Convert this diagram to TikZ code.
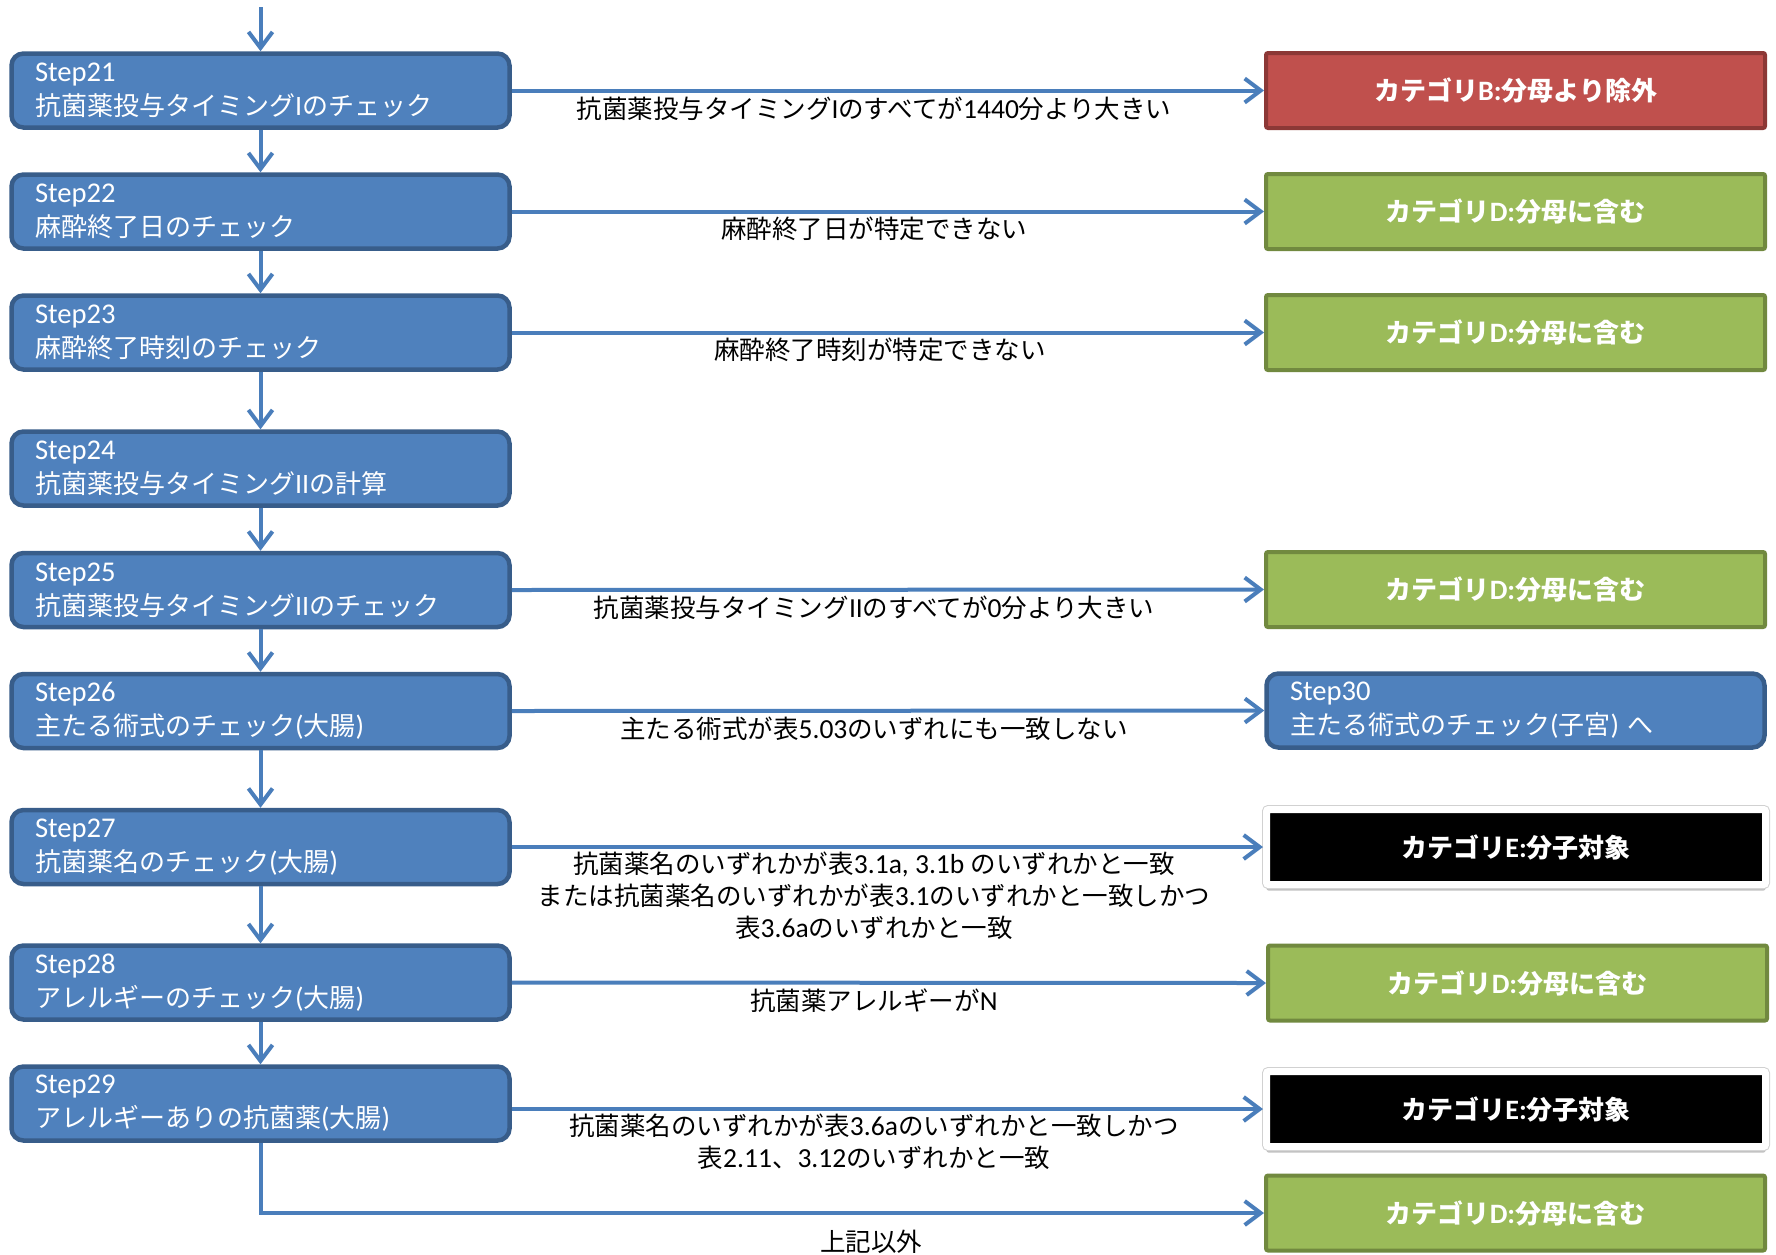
\documentclass[tikz,border=0pt]{standalone}
\usepackage{fontspec}
\setmainfont{Noto Sans CJK JP}
\newfontfamily\lat{Carlito}[Scale=1.08]
\newfontfamily\latb{Carlito}[Scale=1.1]
\usetikzlibrary{arrows.meta,shadows}
\definecolor{stepblue}{HTML}{4F81BD}
\definecolor{stepborder}{HTML}{385D8A}
\definecolor{arrowblue}{HTML}{4A7EBB}
\definecolor{redfill}{HTML}{C0504D}
\definecolor{redborder}{HTML}{8C3836}
\definecolor{greenfill}{HTML}{9BBB59}
\definecolor{greenborder}{HTML}{71893F}
\begin{document}
\begin{tikzpicture}[x=0.5pt,y=-0.5pt,
  font=\fontsize{12.75pt}{17pt}\selectfont,
  stepbox/.style={draw=stepborder, fill=stepblue, line width=2.25pt, rounded corners=6pt,
    minimum width=249pt, minimum height=37pt, text width=225.5pt, inner xsep=11.75pt,
    inner ysep=0pt, align=left, text=white, font=\fontsize{13pt}{17pt}\selectfont,
    execute at end node={\endgraf\vskip-2.5pt}},
  catbox/.style={line width=2pt, minimum width=249.5pt, minimum height=37.5pt, text=white,
    rounded corners=1pt, font=\fontsize{13pt}{17pt}\selectfont\bfseries},
  catB/.style={catbox, draw=redborder, fill=redfill},
  catD/.style={catbox, draw=greenborder, fill=greenfill},
  catE/.style={catbox, draw=white, fill=black, line width=3.5pt,
    drop shadow={shadow xshift=0pt, shadow yshift=-3pt, opacity=0.4, fill=black!60},
    preaction={draw=black!18, line width=4.5pt}},
  flow/.style={draw=arrowblue, line width=2pt, -{Straight Barb[length=8pt,width=12pt]}},
  lab/.style={text=black, inner sep=0pt, font=\fontsize{12.75pt}{16pt}\selectfont, align=center}
]
\fill[white] (0,0) rectangle (1776,1254);
\useasboundingbox (0,0) rectangle (1776,1254);

% left column
\node[stepbox] (s21) at (260.5,90.5) {{\latb Step21}\\抗菌薬投与タイミング{\lat I}のチェック};
\node[stepbox] (s22) at (260.5,211.5) {{\latb Step22}\\麻酔終了日のチェック};
\node[stepbox] (s23) at (260.5,332.5) {{\latb Step23}\\麻酔終了時刻のチェック};
\node[stepbox] (s24) at (260.5,468.5) {{\latb Step24}\\抗菌薬投与タイミング{\lat II}の計算};
\node[stepbox] (s25) at (260.5,590) {{\latb Step25}\\抗菌薬投与タイミング{\lat II}のチェック};
\node[stepbox] (s26) at (260.5,711) {{\latb Step26}\\主たる術式のチェック{\lat(}大腸{\lat)}};
\node[stepbox] (s27) at (260.5,847) {{\latb Step27}\\抗菌薬名のチェック{\lat(}大腸{\lat)}};
\node[stepbox] (s28) at (260.5,982.5) {{\latb Step28}\\アレルギーのチェック{\lat(}大腸{\lat)}};
\node[stepbox] (s29) at (260.5,1103.5) {{\latb Step29}\\アレルギーありの抗菌薬{\lat(}大腸{\lat)}};

% right column
\node[catB] (b1) at (1515.5,90.5) {カテゴリ{\lat B:}分母より除外};
\node[catD] (d1) at (1515.5,211.5) {カテゴリ{\lat D:}分母に含む};
\node[catD] (d2) at (1515.5,332.5) {カテゴリ{\lat D:}分母に含む};
\node[catD] (d3) at (1515.5,589.5) {カテゴリ{\lat D:}分母に含む};
\node[stepbox] (s30) at (1515.5,710.5) {{\latb Step30}\\主たる術式のチェック{\lat(}子宮{\lat)} へ};
\node[catE] (e1) at (1516,847) {カテゴリ{\lat E:}分子対象};
\node[catD] (d4) at (1517.5,983) {カテゴリ{\lat D:}分母に含む};
\node[catE] (e2) at (1516,1109) {カテゴリ{\lat E:}分子対象};
\node[catD] (d5) at (1515.5,1213) {カテゴリ{\lat D:}分母に含む};

% vertical flow
\coordinate (top) at (260.5,7);
\draw[flow] (top) -- (s21.north);
\draw[flow] (s21) -- (s22);
\draw[flow] (s22) -- (s23);
\draw[flow] (s23) -- (s24);
\draw[flow] (s24) -- (s25);
\draw[flow] (s25) -- (s26);
\draw[flow] (s26) -- (s27);
\draw[flow] (s27) -- (s28);
\draw[flow] (s28) -- (s29);

% horizontal flow
\draw[flow] (s21.east) -- (b1.west);
\draw[flow] (s22.east) -- (d1.west);
\draw[flow] (s23.east) -- (d2.west);
\draw[flow] (s25.east) -- (d3.west);
\draw[flow] (s26.east) -- (s30.west);
\draw[flow] (s27.east) -- (e1.west);
\draw[flow] (s28.east) -- (d4.west);
\draw[flow] (s29.east |- e2.west) -- (e2.west);
\draw[flow] (s29.south) -- (s29.south |- d5.west) -- (d5.west);

% labels
\node[lab, anchor=base] (l1) at (874,118) {抗菌薬投与タイミング{\lat I}のすべてが{\lat 1440}分より大きい};
\node[lab, anchor=base] (l2) at (874,238) {麻酔終了日が特定できない};
\node[lab, anchor=base] (l3) at (880,359) {麻酔終了時刻が特定できない};
\node[lab, anchor=base] (l4) at (874,617) {抗菌薬投与タイミング{\lat II}のすべてが{\lat 0}分より大きい};
\node[lab, anchor=base] (l5) at (874,738) {主たる術式が表{\lat 5.03}のいずれにも一致しない};
\node[lab, anchor=north] (l6) at (874,852) {抗菌薬名のいずれかが表{\lat 3.1a, 3.1b }のいずれかと一致\\または抗菌薬名のいずれかが表{\lat 3.1}のいずれかと一致しかつ\\表{\lat 3.6a}のいずれかと一致};
\node[lab, anchor=base] (l7) at (874,1010) {抗菌薬アレルギーが{\lat N}};
\node[lab, anchor=north] (l8) at (874,1114) {抗菌薬名のいずれかが表{\lat 3.6a}のいずれかと一致しかつ\\表{\lat 2.11}、{\lat 3.12}のいずれかと一致};
\node[lab, anchor=base] (l9) at (871,1251) {上記以外};
\end{tikzpicture}
\end{document}
